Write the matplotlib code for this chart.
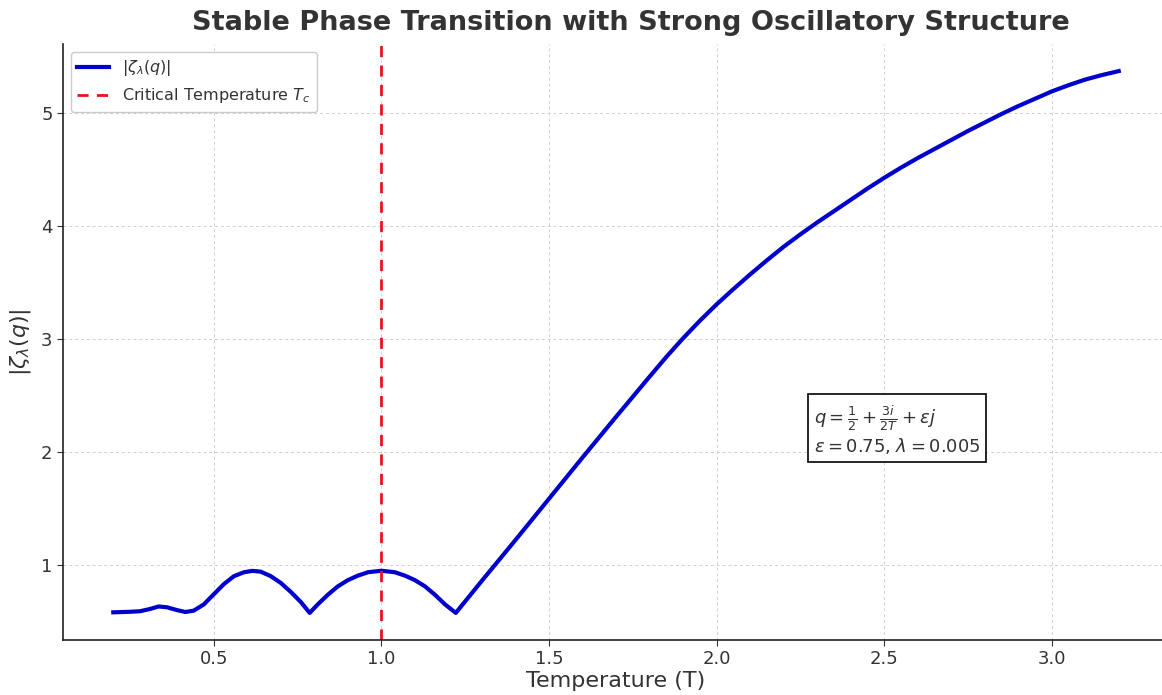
import matplotlib.pyplot as plt

# Temperature values and |zeta_lambda(q)|
temps = [0.20, 0.25, 0.28, 0.31, 0.335, 0.36, 0.39, 0.415, 0.44, 0.47,
         0.50, 0.53, 0.56, 0.59, 0.615, 0.64, 0.67, 0.70, 0.73, 0.76,
         0.786, 0.81, 0.84, 0.87, 0.90, 0.93, 0.96, 1.00, 1.04, 1.07,
         1.10, 1.13, 1.16, 1.19, 1.222, 1.30, 1.40, 1.50, 1.60, 1.70,
         1.80, 1.85, 1.90, 1.95, 2.00, 2.05, 2.10, 2.15, 2.20, 2.25,
         2.30, 2.35, 2.40, 2.45, 2.50, 2.55, 2.60, 2.65, 2.70, 2.75,
         2.80, 2.85, 2.90, 2.95, 3.00, 3.05, 3.10, 3.15, 3.20]
zeta_abs = [0.58, 0.585, 0.59, 0.61, 0.632, 0.625, 0.60, 0.583, 0.595, 0.65,
            0.74, 0.83, 0.90, 0.935, 0.947, 0.94, 0.90, 0.84, 0.76, 0.67,
            0.575, 0.65, 0.735, 0.81, 0.865, 0.905, 0.935, 0.948, 0.935, 0.905,
            0.865, 0.81, 0.735, 0.65, 0.575, 0.86, 1.22, 1.585, 1.95, 2.31,
            2.665, 2.84, 3.005, 3.16, 3.305, 3.44, 3.57, 3.695, 3.815, 3.925,
            4.03, 4.13, 4.23, 4.33, 4.425, 4.515, 4.60, 4.68, 4.76, 4.84,
            4.915, 4.99, 5.06, 5.125, 5.19, 5.245, 5.295, 5.335, 5.37]
T_c = 1.0

text_col = '#333333'

fig = plt.figure(figsize=(11.62, 6.95), dpi=100)
ax = fig.add_axes([63/1162, 55/695, 1106/1162, 596/695])

ax.plot(temps, zeta_abs, color='#0000cc', lw=3, label=r'$|\zeta_\lambda(q)|$')
ax.axvline(T_c, color='#e8141a', ls='--', lw=2, dashes=(4, 3),
           label=r'Critical Temperature $T_c$')

ax.grid(True, ls=(0, (3, 3)), color='#cfcfcf', lw=0.7)
ax.set_axisbelow(True)
ax.spines['top'].set_visible(False)
ax.spines['right'].set_visible(False)
for s in ['left', 'bottom']:
    ax.spines[s].set_color('#222222')
    ax.spines[s].set_linewidth(1.2)

ax.set_xticks([0.5, 1.0, 1.5, 2.0, 2.5, 3.0])
ax.set_yticks([1, 2, 3, 4, 5])
ax.tick_params(labelsize=13, colors=text_col, length=4)

ax.set_xlabel('Temperature (T)', fontsize=16, color=text_col, labelpad=2)
ax.set_ylabel(r'$|\zeta_\lambda(q)|$', fontsize=16, color=text_col, labelpad=6)
ax.set_title('Stable Phase Transition with Strong Oscillatory Structure',
             fontsize=19.5, fontweight='bold', color=text_col, pad=10, x=0.513)

ax.legend(loc='upper left', fontsize=11.5, labelcolor=text_col,
          framealpha=1, edgecolor='#cccccc', borderaxespad=0.5)

ax.text(2.29, 2.19,
        r'$q = \frac{1}{2} + \frac{3i}{2T} + \epsilon j$' + '\n' +
        r'$\epsilon = 0.75$, $\lambda = 0.005$',
        fontsize=13, color=text_col, va='center', ha='left',
        bbox=dict(boxstyle='square,pad=0.3', facecolor='white',
                  edgecolor='black', lw=1.2))

fig.savefig('out.png', dpi=100)
